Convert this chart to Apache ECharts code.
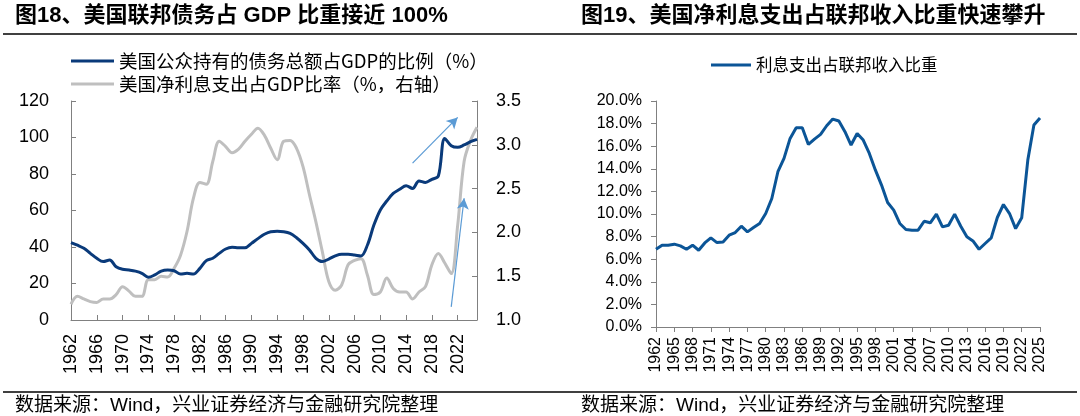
<!DOCTYPE html>
<html>
<head>
<meta charset="utf-8">
<script src="https://cdn.jsdelivr.net/npm/echarts@6/dist/echarts.min.js"></script>
<style>
  html, body { margin: 0; padding: 0; background: #fff; }
  #chart { width: 1080px; height: 416px; }
</style>
</head>
<body>
<div id="chart"></div>
<script>
// years shared by both panels
const years = [
  '1962', '1963', '1964', '1965', '1966', '1967', '1968', '1969', '1970', '1971',
  '1972', '1973', '1974', '1975', '1976', '1977', '1978', '1979', '1980', '1981',
  '1982', '1983', '1984', '1985', '1986', '1987', '1988', '1989', '1990', '1991',
  '1992', '1993', '1994', '1995', '1996', '1997', '1998', '1999', '2000', '2001',
  '2002', '2003', '2004', '2005', '2006', '2007', '2008', '2009', '2010', '2011',
  '2012', '2013', '2014', '2015', '2016', '2017', '2018', '2019', '2020', '2021',
  '2022', '2023', '2024', '2025'
];

// 图18: 公众持有债务/GDP (%)
const debtToGdp = [
  42.4, 41.0, 39.3, 36.5, 33.8, 32.0, 32.9, 29.2, 27.8, 27.4,
  26.8, 25.6, 23.4, 24.7, 26.8, 27.4, 27.0, 25.2, 25.6, 25.2,
  28.3, 32.5, 33.8, 36.5, 38.9, 39.8, 39.6, 39.6, 42.0, 44.6,
  47.0, 48.4, 48.6, 48.4, 47.5, 45.1, 42.0, 38.4, 33.8, 32.0,
  33.4, 35.1, 36.0, 36.0, 35.6, 35.1, 41.1, 52.0, 60.3, 65.2,
  69.4, 71.6, 73.6, 72.1, 76.2, 75.4, 77.1, 78.9, 99.5, 95.5,
  94.6, 95.9, 97.7, 99.0
];

// 图18: 净利息支出/GDP (%, 右轴)
const netInterestToGdp = [
  1.18, 1.27, 1.24, 1.21, 1.20, 1.24, 1.24, 1.29, 1.38, 1.33,
  1.27, 1.27, 1.46, 1.46, 1.50, 1.49, 1.59, 1.74, 2.01, 2.39,
  2.57, 2.55, 2.81, 3.04, 2.98, 2.91, 2.95, 3.04, 3.12, 3.19,
  3.11, 2.96, 2.83, 3.04, 3.05, 2.96, 2.75, 2.43, 2.12, 1.78,
  1.44, 1.34, 1.40, 1.63, 1.68, 1.70, 1.51, 1.29, 1.32, 1.48,
  1.36, 1.32, 1.32, 1.24, 1.32, 1.38, 1.63, 1.76, 1.65, 1.53,
  2.08, 2.81, 3.05, 3.20
];

// 图19: 利息支出占联邦收入比重 (%)
const interestToRevenue = [
  6.88, 7.24, 7.24, 7.33, 7.18, 6.88, 7.24, 6.79, 7.44, 7.89,
  7.47, 7.53, 8.12, 8.36, 8.92, 8.42, 8.80, 9.16, 10.04, 11.37,
  13.74, 14.92, 16.69, 17.64, 17.64, 16.16, 16.63, 17.05, 17.81, 18.40,
  18.23, 17.28, 16.10, 17.13, 16.54, 15.36, 13.88, 12.56, 11.02, 10.34,
  9.16, 8.63, 8.57, 8.57, 9.36, 9.22, 9.99, 8.86, 9.01, 9.99,
  8.92, 7.98, 7.62, 6.88, 7.39, 7.89, 9.69, 10.84, 10.04, 8.71,
  9.66, 14.77, 17.87, 18.50
];

const leftTicks = [0, 20, 40, 60, 80, 100, 120];
const rightTicks = [1.0, 1.5, 2.0, 2.5, 3.0, 3.5];
const ratioTicks = [0, 2, 4, 6, 8, 10, 12, 14, 16, 18, 20];

const latin = 'Liberation Sans, Arial, Noto Sans CJK SC, sans-serif';
const cjk = 'Noto Sans CJK SC, Liberation Sans, sans-serif';
const axisGray = '#808080';

const chart = echarts.init(document.getElementById('chart'));

const option = {
  animation: false,
  backgroundColor: '#fff',
  title: [
    {
      text: '图18、美国联邦债务占 GDP 比重接近 100%',
      left: 15, top: 5, padding: 0,
      textStyle: { fontFamily: latin, fontSize: 22, fontWeight: 'bold', color: '#000' }
    },
    {
      text: '图19、美国净利息支出占联邦收入比重快速攀升',
      left: 581, top: 5, padding: 0,
      textStyle: { fontFamily: latin, fontSize: 22, fontWeight: 'bold', color: '#000' }
    },
    {
      text: '数据来源：Wind，兴业证券经济与金融研究院整理',
      left: 15, top: 396, padding: 0,
      textStyle: { fontFamily: latin, fontSize: 19, fontWeight: 'normal', color: '#000' }
    },
    {
      text: '数据来源：Wind，兴业证券经济与金融研究院整理',
      left: 581, top: 396, padding: 0,
      textStyle: { fontFamily: latin, fontSize: 19, fontWeight: 'normal', color: '#000' }
    }
  ],
  legend: [
    {
      orient: 'vertical',
      left: 71, top: 51, padding: 0,
      icon: 'rect',
      itemWidth: 43, itemHeight: 3, itemGap: 3,
      textStyle: { fontFamily: cjk, fontSize: 18.5, lineHeight: 20, color: '#000' },
      data: ['美国公众持有的债务总额占GDP的比例（%）', '美国净利息支出占GDP比率（%，右轴）']
    },
    {
      left: 711, top: 55, padding: 0,
      icon: 'rect',
      itemWidth: 40, itemHeight: 3,
      textStyle: { fontFamily: cjk, fontSize: 16.5, lineHeight: 20, color: '#000' },
      data: ['利息支出占联邦收入比重']
    }
  ],
  grid: [
    { left: 71, top: 101, width: 406, height: 219 },
    { left: 656, top: 101, width: 384, height: 226 }
  ],
  xAxis: [
    {
      gridIndex: 0,
      type: 'category',
      boundaryGap: false,
      data: years,
      axisLine: { lineStyle: { color: axisGray, width: 1 } },
      axisTick: { inside: true, length: 5, interval: 3, lineStyle: { color: axisGray } },
      axisLabel: { interval: 3, rotate: 90, margin: 14, fontFamily: latin, fontSize: 18, color: '#000' }
    },
    {
      gridIndex: 1,
      type: 'category',
      boundaryGap: false,
      data: years,
      axisLine: { lineStyle: { color: axisGray, width: 1 } },
      axisTick: { length: 5, interval: 2, lineStyle: { color: axisGray } },
      axisLabel: { interval: 2, rotate: 90, margin: 10, fontFamily: latin, fontSize: 16, color: '#000' }
    }
  ],
  yAxis: [
    {
      gridIndex: 0,
      type: 'value',
      min: leftTicks[0], max: leftTicks[leftTicks.length - 1], interval: 20,
      splitLine: { show: false },
      axisLine: { show: true, lineStyle: { color: axisGray } },
      axisTick: { show: true, inside: true, length: 5, lineStyle: { color: axisGray } },
      axisLabel: { margin: 22, fontFamily: latin, fontSize: 18, color: '#000' }
    },
    {
      gridIndex: 0,
      type: 'value',
      position: 'right',
      min: rightTicks[0], max: rightTicks[rightTicks.length - 1], interval: 0.5,
      splitLine: { show: false },
      axisLine: { show: true, lineStyle: { color: axisGray } },
      axisTick: { show: true, inside: true, length: 5, lineStyle: { color: axisGray } },
      axisLabel: { margin: 19, fontFamily: latin, fontSize: 18, color: '#000',
        formatter: v => v.toFixed(1) }
    },
    {
      gridIndex: 1,
      type: 'value',
      min: ratioTicks[0], max: ratioTicks[ratioTicks.length - 1], interval: 2,
      splitLine: { show: false },
      axisLine: { show: true, lineStyle: { color: axisGray } },
      axisTick: { show: true, length: 5, lineStyle: { color: axisGray } },
      axisLabel: { margin: 14, fontFamily: latin, fontSize: 16, color: '#000',
        formatter: v => v.toFixed(1) + '%' }
    }
  ],
  series: [
    {
      name: '美国净利息支出占GDP比率（%，右轴）',
      type: 'line',
      xAxisIndex: 0, yAxisIndex: 1,
      data: netInterestToGdp,
      symbol: 'none',
      smooth: 0.35,
      itemStyle: { color: '#BFBFBF' },
      lineStyle: { color: '#BFBFBF', width: 3 },
      markLine: {
        silent: true,
        symbol: ['none', 'arrow'],
        symbolSize: [9, 11],
        label: { show: false },
        lineStyle: { color: '#5B9BD5', width: 1.2, type: 'solid' },
        data: [[{ coord: ['2021', 1.15] }, { coord: ['2023', 2.39] }]]
      }
    },
    {
      name: '美国公众持有的债务总额占GDP的比例（%）',
      type: 'line',
      xAxisIndex: 0, yAxisIndex: 0,
      data: debtToGdp,
      symbol: 'none',
      smooth: 0.35,
      itemStyle: { color: '#0A3A7A' },
      lineStyle: { color: '#0A3A7A', width: 3 },
      markLine: {
        silent: true,
        symbol: ['none', 'arrow'],
        symbolSize: [9, 11],
        label: { show: false },
        lineStyle: { color: '#5B9BD5', width: 1.2, type: 'solid' },
        data: [[{ coord: ['2015', 86] }, { coord: ['2022', 111] }]]
      }
    },
    {
      name: '利息支出占联邦收入比重',
      type: 'line',
      xAxisIndex: 1, yAxisIndex: 2,
      data: interestToRevenue,
      symbol: 'none',
      itemStyle: { color: '#0B5597' },
      lineStyle: { color: '#0B5597', width: 3 }
    }
  ],
  graphic: [
    { type: 'line', shape: { x1: 3, y1: 34, x2: 1077, y2: 34 }, style: { stroke: '#000', lineWidth: 1.5 } },
    { type: 'line', shape: { x1: 3, y1: 392, x2: 1077, y2: 392 }, style: { stroke: '#000', lineWidth: 1.5 } }
  ]
};

chart.setOption(option);
</script>
</body>
</html>
